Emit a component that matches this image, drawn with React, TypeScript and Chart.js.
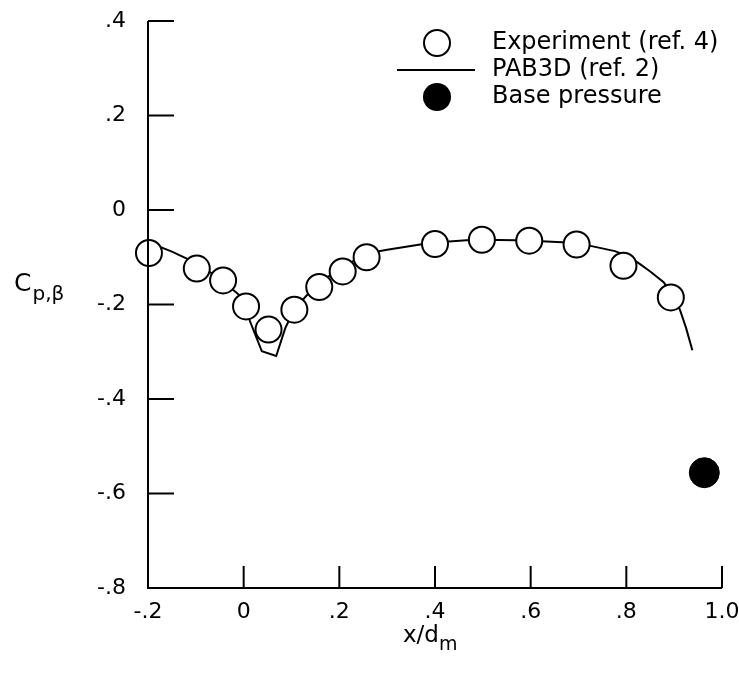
import React, { useEffect, useRef } from "react";
import { Chart, registerables } from "chart.js";

Chart.register(...registerables);

// Experiment (ref. 4)
const expX = [-0.198, -0.098, -0.043, 0.005, 0.052, 0.106, 0.158, 0.207, 0.257, 0.4, 0.498, 0.597, 0.696, 0.794, 0.893];
const expY = [-0.091, -0.124, -0.149, -0.204, -0.253, -0.211, -0.163, -0.13, -0.1, -0.072, -0.063, -0.065, -0.073, -0.118, -0.185];

// PAB3D (ref. 2)
const pabX = [-0.2, -0.15, -0.1, -0.05, 0.0, 0.013, 0.038, 0.068, 0.087, 0.106, 0.15, 0.2, 0.257, 0.3, 0.369, 0.4, 0.466, 0.5, 0.567, 0.6, 0.666, 0.7, 0.73, 0.776, 0.8, 0.825, 0.85, 0.878, 0.895, 0.912, 0.925, 0.938];
const pabY = [-0.068, -0.088, -0.112, -0.145, -0.188, -0.235, -0.299, -0.309, -0.25, -0.21, -0.16, -0.125, -0.092, -0.084, -0.073, -0.069, -0.064, -0.063, -0.064, -0.065, -0.068, -0.072, -0.077, -0.087, -0.096, -0.112, -0.13, -0.153, -0.178, -0.211, -0.25, -0.297];

// Base pressure
const baseX = [0.963];
const baseY = [-0.556];

const xTickLabels = ["-.2", "0", ".2", ".4", ".6", ".8", "1.0"];
const yTickLabels = ["-.8", "-.6", "-.4", "-.2", "0", ".2", ".4"];

const legendLabels = ["Experiment (ref. 4)", "PAB3D (ref. 2)", "Base pressure"];

const FONT = '"DejaVu Sans", sans-serif';

const toPts = (xs: number[], ys: number[]) => xs.map((x, i) => ({ x, y: ys[i] }));

const zeroPad = (s: any) => {
  s.paddingLeft = 0;
  s.paddingRight = 0;
  s.paddingTop = 0;
  s.paddingBottom = 0;
};

const decorPlugin = {
  id: "decor",
  afterDraw(chart: any) {
    const { ctx, chartArea, scales } = chart;
    const { left, right, top, bottom } = chartArea;
    ctx.save();
    ctx.strokeStyle = "#000";
    ctx.fillStyle = "#000";
    ctx.lineWidth = 2;
    ctx.beginPath();
    ctx.moveTo(left, top);
    ctx.lineTo(left, bottom);
    ctx.lineTo(right, bottom);
    ctx.stroke();
    scales.x.ticks.forEach((_t: any, i: number) => {
      const px = scales.x.getPixelForTick(i);
      ctx.beginPath();
      ctx.moveTo(px, bottom);
      ctx.lineTo(px, bottom - 22);
      ctx.stroke();
    });
    scales.y.ticks.forEach((_t: any, i: number) => {
      const py = scales.y.getPixelForTick(i);
      ctx.beginPath();
      ctx.moveTo(left, py);
      ctx.lineTo(left + 26, py);
      ctx.stroke();
    });

    // y title C_p,β
    ctx.textBaseline = "alphabetic";
    ctx.textAlign = "left";
    ctx.font = `25px ${FONT}`;
    ctx.fillText("C", 14, 291);
    const cw = ctx.measureText("C").width;
    ctx.font = `20px ${FONT}`;
    ctx.fillText("p,β", 14 + cw + 1, 300);

    // x title x/d_m
    ctx.font = `23px ${FONT}`;
    ctx.fillText("x/d", 403, 642);
    const xw = ctx.measureText("x/d").width;
    ctx.font = `19px ${FONT}`;
    ctx.fillText("m", 403 + xw, 650);

    // legend
    const lx = 437;
    const ys = [43, 70, 97];
    ctx.lineWidth = 2;
    ctx.beginPath();
    ctx.arc(lx, ys[0], 13, 0, Math.PI * 2);
    ctx.fillStyle = "#fff";
    ctx.fill();
    ctx.stroke();
    ctx.beginPath();
    ctx.moveTo(397, ys[1]);
    ctx.lineTo(475, ys[1]);
    ctx.stroke();
    ctx.fillStyle = "#000";
    ctx.beginPath();
    ctx.arc(lx, ys[2], 14, 0, Math.PI * 2);
    ctx.fill();
    ctx.font = `24px ${FONT}`;
    ctx.textBaseline = "middle";
    legendLabels.forEach((t, i) => ctx.fillText(t, 492, ys[i]));
    ctx.restore();
  },
};

export default function App() {
  const ref = useRef<HTMLCanvasElement | null>(null);
  useEffect(() => {
    document.body.style.margin = "0";
    if (!ref.current) return;
    const chart = new Chart(ref.current, {
      type: "scatter",
      data: {
        datasets: [
          {
            label: legendLabels[0],
            data: toPts(expX, expY),
            pointRadius: 13,
            pointBackgroundColor: "#fff",
            pointBorderColor: "#000",
            pointBorderWidth: 2,
            showLine: false,
            clip: false,
          },
          {
            label: legendLabels[2],
            data: toPts(baseX, baseY),
            pointRadius: 15,
            pointBackgroundColor: "#000",
            pointBorderColor: "#000",
            pointBorderWidth: 1,
            showLine: false,
            clip: false,
          },
          {
            label: legendLabels[1],
            data: toPts(pabX, pabY),
            showLine: true,
            pointRadius: 0,
            borderColor: "#000",
            borderWidth: 2,
            tension: 0,
            fill: false,
            clip: false,
          },
        ],
      },
      options: {
        animation: false,
        responsive: false,
        maintainAspectRatio: false,
        layout: { padding: { left: 0, top: 21, right: 17, bottom: 0 } },
        plugins: { legend: { display: false }, tooltip: { enabled: false } },
        scales: {
          x: {
            type: "linear",
            min: -0.2,
            max: 1.0,
            grid: { display: false },
            border: { display: false },
            afterFit: (s: any) => { s.height = 102; zeroPad(s); },
            ticks: {
              stepSize: 0.2,
              padding: 3,
              color: "#000",
              font: { family: FONT, size: 22 },
              callback: (_v: any, i: number) => xTickLabels[i],
              maxRotation: 0,
            },
          },
          y: {
            type: "linear",
            min: -0.8,
            max: 0.4,
            grid: { display: false },
            border: { display: false },
            afterFit: (s: any) => { s.width = 148; zeroPad(s); },
            ticks: {
              stepSize: 0.2,
              padding: 14,
              color: "#000",
              font: { family: FONT, size: 22 },
              callback: (_v: any, i: number) => yTickLabels[i],
            },
          },
        },
      },
      plugins: [decorPlugin],
    });
    return () => chart.destroy();
  }, []);
  return (
    <div style={{ position: "absolute", left: 0, top: 0, width: 739, height: 690, background: "#fff" }}>
      <canvas ref={ref} width={739} height={690} style={{ width: 739, height: 690 }} />
    </div>
  );
}
